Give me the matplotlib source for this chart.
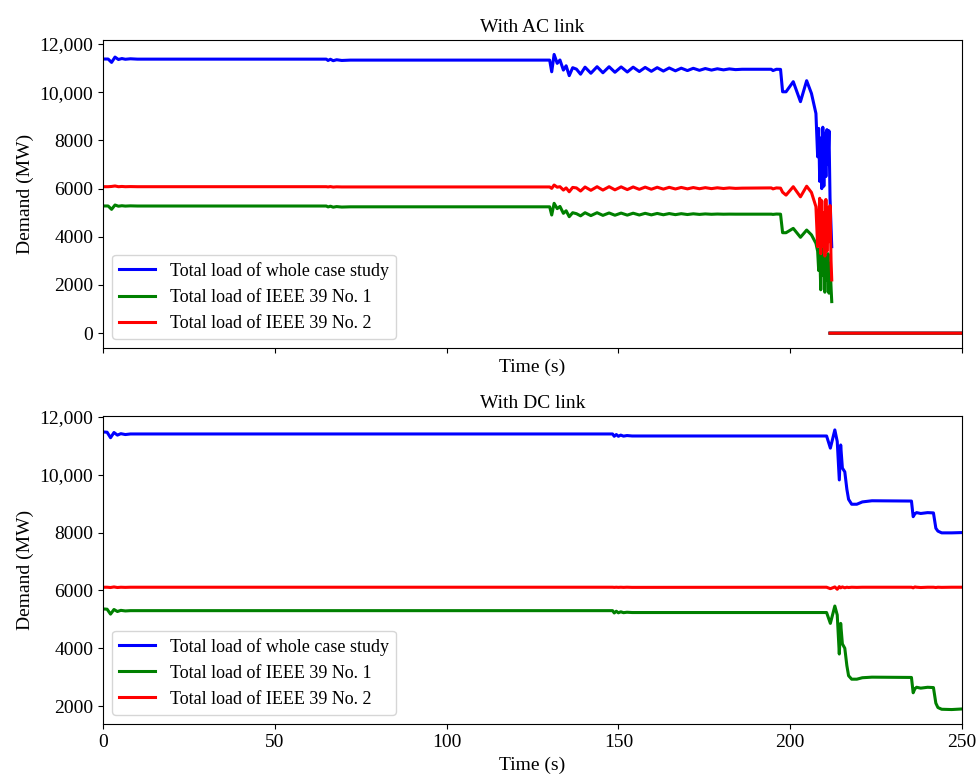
import matplotlib
matplotlib.use("Agg")
import matplotlib.pyplot as plt
import numpy as np

plt.rcParams["font.family"] = ["Liberation Serif", "DejaVu Serif"]
plt.rcParams["font.size"] = 14

# --- With AC link (time in s, demand in MW) ---
t_ac = [0, 1.5, 2.5, 3.5, 4.5, 5.5, 6.5, 8, 10, 65, 65.5, 66.2, 67, 68, 69.5, 72,
        130, 130.6, 131.3, 132.2, 133.0, 134.0, 134.8, 135.7, 136.7, 137.8, 139.0,
        140.3, 142.0, 143.8, 145.5, 147.3, 149.0, 150.8, 152.6, 154.3, 156.1,
        157.8, 159.6, 161.3, 163.1, 164.8, 166.6, 168.3, 170.1, 171.8, 173.6,
        175.3, 177.1, 178.8, 180.6, 182.3, 184.1, 186, 194.5, 195.0, 196.0,
        197.2, 197.8, 198.8, 200.9, 203.0, 204.8, 206.2, 207.5, 208.0, 208.3,
        208.6, 208.9, 209.2, 209.5, 209.8, 210.1, 210.4, 210.7, 211.0, 211.3,
        211.6, 211.9, 212.1, 212.1, 211.6, 250]
whole_ac = [11380, 11380, 11240, 11460, 11360, 11400, 11370, 11390, 11375, 11375,
            11320, 11370, 11310, 11350, 11320, 11335,
            11335, 10850, 11570, 11200, 11340, 10920, 11100, 10690, 11020, 10960, 10750,
            11040, 10790, 11060, 10810, 11060, 10830, 11050, 10840, 11040, 10860,
            11030, 10870, 11020, 10880, 11010, 10890, 11000, 10900, 10995, 10910,
            10985, 10920, 10975, 10930, 10970, 10940, 10955, 10955, 10900, 10955,
            10950, 10020, 10020, 10440, 9610, 10480, 9950, 9120, 7320, 8500,
            6300, 8100, 6000, 8550, 6100, 8300, 6500, 8450, 7000, 8400,
            5600, 4400, 3590, np.nan, 0, 0]
ieee1_ac = [5280, 5280, 5140, 5320, 5270, 5290, 5275, 5285, 5278, 5278,
            5240, 5270, 5230, 5255, 5235, 5245,
            5245, 4905, 5390, 5170, 5260, 4975, 5080, 4835, 5000, 4960, 4870,
            5000, 4880, 5000, 4890, 4990, 4895, 4985, 4900, 4980, 4905,
            4975, 4910, 4970, 4915, 4965, 4920, 4960, 4925, 4955, 4930,
            4950, 4935, 4945, 4938, 4942, 4940, 4940, 4940, 4930, 4945,
            4940, 4170, 4170, 4350, 3980, 4280, 4080, 3730, 3400, 2600,
            3500, 1800, 3200, 2400, 3600, 1700, 3100, 2200, 3300, 1660,
            2900, 1900, 1310, np.nan, 0, 0]
ieee2_ac = [6080, 6080, 6090, 6110, 6080, 6090, 6080, 6085, 6080, 6080,
            6070, 6085, 6065, 6075, 6070, 6070,
            6070, 6010, 6150, 6060, 6080, 5940, 6030, 5870, 6050, 6030, 5900,
            6070, 5930, 6080, 5940, 6080, 5950, 6075, 5960, 6070, 5970,
            6065, 5975, 6060, 5980, 6055, 5985, 6050, 5990, 6045, 5995,
            6040, 6000, 6035, 6005, 6030, 6010, 6020, 6030, 5990, 6030,
            6020, 5850, 5730, 6080, 5660, 6100, 5840, 5250, 3590, 4800,
            5600, 3300, 5500, 3600, 5000, 3200, 5550, 3400, 5200, 3800,
            5300, 3000, 2210, np.nan, 0, 0]

# --- With DC link ---
t_dc = [0, 1.2, 2.2, 3.2, 4.2, 5.2, 6.5, 8, 148.3, 148.8, 149.4, 150.0, 150.7,
        151.5, 152.5, 154, 210.6, 211.7, 213.0, 213.7, 214.3, 214.7, 215.2,
        215.9, 216.5, 217.0, 217.9, 219.4, 221, 223.8, 235.3, 235.8, 236.3,
        236.8, 238, 240, 241.7, 242.4, 243.0, 244.1, 247, 250]
whole_dc = [11480, 11470, 11280, 11460, 11370, 11420, 11390, 11410, 11410, 11330,
            11390, 11330, 11370, 11335, 11355, 11340, 11340, 10920, 11550, 11150,
            9820, 11030, 10230, 10100, 9500, 9150, 8980, 8980, 9060, 9100, 9090,
            8550, 8650, 8690, 8660, 8690, 8680, 8150, 8050, 7990, 7990, 8000]
ieee1_dc = [5360, 5350, 5180, 5340, 5270, 5310, 5290, 5300, 5300, 5220,
            5280, 5225, 5260, 5230, 5245, 5235, 5235, 4860, 5460, 5150,
            3800, 4860, 4150, 4000, 3400, 3050, 2930, 2930, 2980, 3000, 2990,
            2460, 2600, 2650, 2620, 2650, 2640, 2100, 1950, 1890, 1880, 1900]
ieee2_dc = [6110, 6110, 6100, 6120, 6100, 6110, 6105, 6110, 6110, 6105,
            6110, 6105, 6110, 6105, 6110, 6105, 6110, 6060, 6120, 6040,
            6130, 6090, 6120, 6090, 6110, 6100, 6110, 6105, 6110, 6110, 6110,
            6090, 6120, 6110, 6100, 6110, 6110, 6100, 6110, 6105, 6110, 6110]

labels = ["Total load of whole case study", "Total load of IEEE 39 No. 1",
          "Total load of IEEE 39 No. 2"]
colors = ["blue", "green", "red"]

ac_ticks = [0, 2000, 4000, 6000, 8000, 10000, 12000]
ac_ticklabels = ["0", "2000", "4000", "6000", "8000", "10,000", "12,000"]
dc_ticks = [2000, 4000, 6000, 8000, 10000, 12000]
dc_ticklabels = ["2000", "4000", "6000", "8000", "10,000", "12,000"]
x_ticks = [0, 50, 100, 150, 200, 250]

fig, (ax1, ax2) = plt.subplots(2, 1, sharex=True, figsize=(9.78, 7.78), dpi=100)
fig.subplots_adjust(left=0.1053, right=0.9836, top=0.9486, bottom=0.0694, hspace=0.22)

for ys, c, lab in zip([whole_ac, ieee1_ac, ieee2_ac], colors, labels):
    ax1.plot(t_ac, ys, color=c, lw=2.2, label=lab)
ax1.set_ylim(-620, 12170)
ax1.set_yticks(ac_ticks)
ax1.set_yticklabels(ac_ticklabels)
ax1.set_title("With AC link", fontsize=14)
ax1.set_ylabel("Demand (MW)")
ax1.set_xlabel("Time (s)")
ax1.legend(loc="lower left", fontsize=13)

for ys, c, lab in zip([whole_dc, ieee1_dc, ieee2_dc], colors, labels):
    ax2.plot(t_dc, ys, color=c, lw=2.2, label=lab)
ax2.set_ylim(1380, 12035)
ax2.set_yticks(dc_ticks)
ax2.set_yticklabels(dc_ticklabels)
ax2.set_xlim(0, 250)
ax2.set_xticks(x_ticks)
ax2.set_title("With DC link", fontsize=14)
ax2.set_ylabel("Demand (MW)")
ax2.set_xlabel("Time (s)")
ax2.legend(loc="lower left", fontsize=13)

fig.savefig("out.png", dpi=100)
